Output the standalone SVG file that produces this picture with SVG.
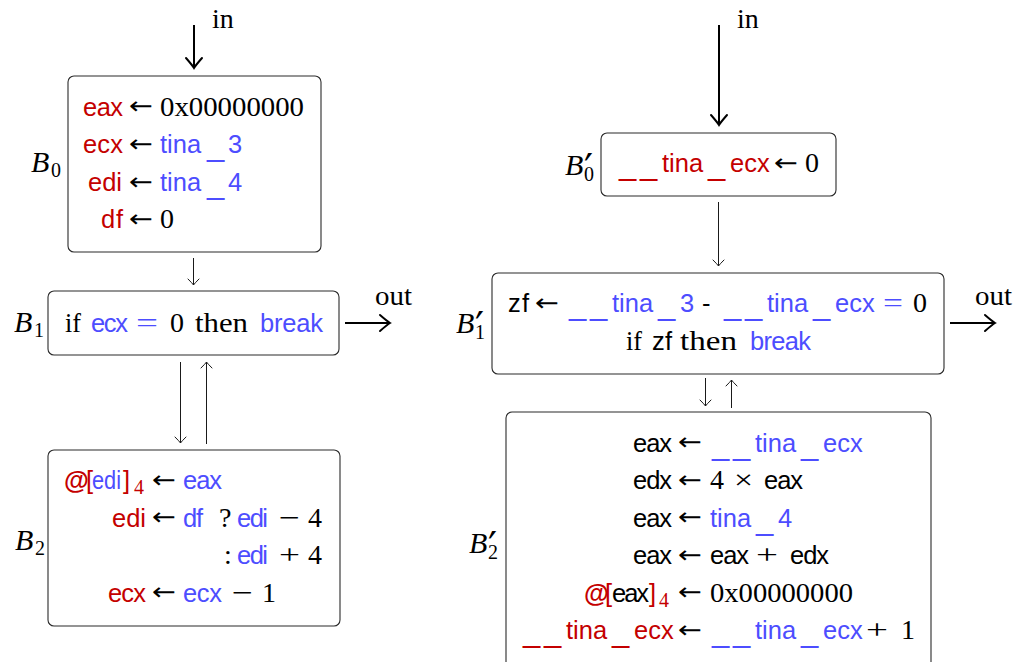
<svg xmlns="http://www.w3.org/2000/svg" width="1022" height="662" viewBox="0 0 1022 662">
  <style>
    .box { fill: #ffffff; stroke: #2a2a2a; stroke-width: 1.1; }
    .sf { font-family: "Liberation Sans", Arial, sans-serif; font-size: 25.5px; fill: #000; }
    .us { font-size: 31px; }
    .rm { font-family: "Liberation Serif", "DejaVu Serif", serif; font-size: 28px; fill: #000; }
    .lbl { font-family: "Liberation Serif", "DejaVu Serif", serif; font-size: 30px; font-style: italic; fill: #000; }
    .sub { font-family: "Liberation Serif", "DejaVu Serif", serif; font-size: 20px; font-style: normal; }
    .pr { font-family: "DejaVu Sans", sans-serif; font-size: 40px; font-style: normal; }
    .ar { font-family: "DejaVu Sans", sans-serif; font-size: 24px; fill: #000; }
    .red { fill: #c40000; }
    .blue { fill: #4d4dff; }
    .thin { fill: none; stroke: #1a1a1a; stroke-width: 1; }
    .thick { fill: none; stroke: #000; stroke-width: 2; }
  </style>
  <defs>
    <marker id="tipThin" markerUnits="userSpaceOnUse" markerWidth="16" markerHeight="16" viewBox="-8 -8 16 16" refX="0" refY="0" orient="auto">
      <path d="M -6,-5.5 Q -1.5,-1 0,0 Q -1.5,1 -6,5.5" fill="none" stroke="#1a1a1a" stroke-width="1" stroke-linecap="round"/>
    </marker>
    <marker id="tipThick" markerUnits="userSpaceOnUse" markerWidth="24" markerHeight="24" viewBox="-12 -12 24 24" refX="0" refY="0" orient="auto">
      <path d="M -10,-8 Q -2.5,-1.5 0,0 Q -2.5,1.5 -10,8" fill="none" stroke="#000" stroke-width="2" stroke-linecap="round"/>
    </marker>
  </defs>

  <!-- connectors -->
  <g id="connectors">
    <line class="thick" x1="194" y1="25" x2="194" y2="68" marker-end="url(#tipThick)"/>
    <text class="rm" x="212" y="28">in</text>
    <line class="thin" x1="193.5" y1="258" x2="193.5" y2="285" marker-end="url(#tipThin)"/>
    <line class="thick" x1="345" y1="323" x2="390" y2="323" marker-end="url(#tipThick)"/>
    <text class="rm" x="375" y="305" textLength="37" lengthAdjust="spacingAndGlyphs">out</text>
    <line class="thin" x1="180.5" y1="362" x2="180.5" y2="443" marker-end="url(#tipThin)"/>
    <line class="thin" x1="206.5" y1="444" x2="206.5" y2="362" marker-end="url(#tipThin)"/>

    <line class="thick" x1="719" y1="25" x2="719" y2="125" marker-end="url(#tipThick)"/>
    <text class="rm" x="737" y="28">in</text>
    <line class="thin" x1="718.5" y1="202" x2="718.5" y2="266" marker-end="url(#tipThin)"/>
    <line class="thick" x1="950" y1="323" x2="995" y2="323" marker-end="url(#tipThick)"/>
    <text class="rm" x="975" y="305" textLength="37" lengthAdjust="spacingAndGlyphs">out</text>
    <line class="thin" x1="705.5" y1="378" x2="705.5" y2="406" marker-end="url(#tipThin)"/>
    <line class="thin" x1="731.5" y1="408" x2="731.5" y2="380" marker-end="url(#tipThin)"/>
  </g>

  <!-- left program -->
  <g id="B0">
    <rect class="box" x="68" y="76" width="253" height="176" rx="6"/>
    <text class="lbl" x="31" y="172">B<tspan class="sub" x="51" dy="5">0</tspan></text>
    <text class="sf red" x="123" y="115.5" text-anchor="end" textLength="40">eax</text>
    <text class="ar" x="129" y="114" textLength="24" lengthAdjust="spacingAndGlyphs">←</text>
    <text class="rm" x="160" y="115.5" textLength="144" lengthAdjust="spacingAndGlyphs">0x00000000</text>
    <text class="sf red" x="123" y="153" text-anchor="end" textLength="40">ecx</text>
    <text class="ar" x="129" y="151.5" textLength="24" lengthAdjust="spacingAndGlyphs">←</text>
    <text class="sf blue" x="160" y="153">tina<tspan class="us" x="207" dy="3">_</tspan><tspan x="228" dy="-3">3</tspan></text>
    <text class="sf red" x="122" y="191" text-anchor="end">edi</text>
    <text class="ar" x="129" y="189.5" textLength="24" lengthAdjust="spacingAndGlyphs">←</text>
    <text class="sf blue" x="160" y="191">tina<tspan class="us" x="207" dy="3">_</tspan><tspan x="228" dy="-3">4</tspan></text>
    <text class="sf red" x="123" y="228" text-anchor="end" textLength="22">df</text>
    <text class="ar" x="129" y="226.5" textLength="24" lengthAdjust="spacingAndGlyphs">←</text>
    <text class="rm" x="160" y="228">0</text>
  </g>

  <g id="B1">
    <rect class="box" x="48" y="291" width="291" height="64" rx="6"/>
    <text class="lbl" x="14" y="332">B<tspan class="sub" x="34" dy="5">1</tspan></text>
    <text class="rm" x="65" y="332" textLength="16" lengthAdjust="spacingAndGlyphs">if</text>
    <text class="sf blue" x="91" y="332" textLength="37">ecx</text>
    <text class="rm blue" x="136" y="332" textLength="22" lengthAdjust="spacingAndGlyphs">=</text>
    <text class="rm" x="170" y="332">0</text>
    <text class="rm" x="195" y="332" textLength="53" lengthAdjust="spacingAndGlyphs">then</text>
    <text class="sf blue" x="260" y="332" textLength="63">break</text>
  </g>

  <g id="B2">
    <rect class="box" x="48" y="450" width="292" height="176" rx="6"/>
    <text class="lbl" x="15" y="550">B<tspan class="sub" x="35" dy="5">2</tspan></text>
    <!-- row 1 -->
    <text class="sf red" x="64" y="489" font-weight="bold" font-size="22px">@</text>
    <text class="sf red" x="86" y="489">[</text>
    <text class="sf blue" x="92" y="489" textLength="29" lengthAdjust="spacingAndGlyphs">edi</text>
    <text class="sf red" x="123" y="489">]</text>
    <text class="sub red" x="134" y="494">4</text>
    <text class="ar" x="152" y="487.5" textLength="24" lengthAdjust="spacingAndGlyphs">←</text>
    <text class="sf blue" x="183" y="489" textLength="39">eax</text>
    <!-- row 2 -->
    <text class="sf red" x="146" y="526.5" text-anchor="end">edi</text>
    <text class="ar" x="152" y="525" textLength="24" lengthAdjust="spacingAndGlyphs">←</text>
    <text class="sf blue" x="183" y="526.5" textLength="20">df</text>
    <text class="rm" x="219" y="526.5">?</text>
    <text class="sf blue" x="237" y="526.5" textLength="31">edi</text>
    <text class="rm" x="279" y="526.5" textLength="21" lengthAdjust="spacingAndGlyphs">−</text>
    <text class="rm" x="308" y="526.5">4</text>
    <!-- row 3 -->
    <text class="rm" x="224" y="564">:</text>
    <text class="sf blue" x="237" y="564" textLength="31">edi</text>
    <text class="rm" x="279" y="564" textLength="21" lengthAdjust="spacingAndGlyphs">+</text>
    <text class="rm" x="308" y="564">4</text>
    <!-- row 4 -->
    <text class="sf red" x="146" y="601.5" text-anchor="end" textLength="38">ecx</text>
    <text class="ar" x="152" y="600" textLength="24" lengthAdjust="spacingAndGlyphs">←</text>
    <text class="sf blue" x="183" y="601.5" textLength="39">ecx</text>
    <text class="rm" x="232" y="601.5" textLength="21" lengthAdjust="spacingAndGlyphs">−</text>
    <text class="rm" x="262" y="601.5">1</text>
  </g>

  <!-- right program -->
  <g id="B0p">
    <rect class="box" x="601" y="133" width="235" height="63" rx="6"/>
    <text class="lbl" x="565" y="175">B<tspan class="pr" x="584" dy="8">′</tspan><tspan class="sub" x="584" dy="-2">0</tspan></text>
    <text class="sf red" x="619" y="175"><tspan class="us">_</tspan><tspan class="us" x="640">_</tspan><tspan x="662" dy="-3">tina</tspan><tspan class="us" x="708" dy="3">_</tspan><tspan x="730" dy="-3">ecx</tspan></text>
    <text class="ar" x="774" y="170.5" textLength="24" lengthAdjust="spacingAndGlyphs">←</text>
    <text class="rm" x="805" y="172">0</text>
  </g>

  <g id="B1p">
    <rect class="box" x="492" y="273" width="452" height="101" rx="6"/>
    <text class="lbl" x="456" y="333">B<tspan class="pr" x="475" dy="8">′</tspan><tspan class="sub" x="475" dy="-2">1</tspan></text>
    <text class="sf" x="508" y="312" textLength="21">zf</text>
    <text class="ar" x="535" y="310.5" textLength="24" lengthAdjust="spacingAndGlyphs">←</text>
    <text class="sf blue" x="569" y="315"><tspan class="us">_</tspan><tspan class="us" x="590">_</tspan><tspan x="612" dy="-3">tina</tspan><tspan class="us" x="658" dy="3">_</tspan><tspan x="680" dy="-3">3</tspan></text>
    <text class="sf" x="702" y="312">-</text>
    <text class="sf blue" x="724" y="315"><tspan class="us">_</tspan><tspan class="us" x="745">_</tspan><tspan x="767" dy="-3">tina</tspan><tspan class="us" x="813" dy="3">_</tspan><tspan x="835" dy="-3">ecx</tspan></text>
    <text class="rm blue" x="883" y="312" textLength="20" lengthAdjust="spacingAndGlyphs">=</text>
    <text class="rm" x="913" y="312">0</text>
    <text class="rm" x="626" y="350" textLength="16" lengthAdjust="spacingAndGlyphs">if</text>
    <text class="sf" x="652" y="350" textLength="20">zf</text>
    <text class="rm" x="680" y="350" textLength="57" lengthAdjust="spacingAndGlyphs">then</text>
    <text class="sf blue" x="750" y="350" textLength="61">break</text>
  </g>

  <g id="B2p">
    <rect class="box" x="506" y="412" width="425" height="262" rx="6"/>
    <text class="lbl" x="469" y="553">B<tspan class="pr" x="488" dy="8">′</tspan><tspan class="sub" x="488" dy="-2">2</tspan></text>
    <!-- row 1 -->
    <text class="sf" x="672" y="451.5" text-anchor="end" textLength="39">eax</text>
    <text class="ar" x="678" y="450" textLength="24" lengthAdjust="spacingAndGlyphs">←</text>
    <text class="sf blue" x="712" y="454.5"><tspan class="us">_</tspan><tspan class="us" x="733">_</tspan><tspan x="755" dy="-3">tina</tspan><tspan class="us" x="801" dy="3">_</tspan><tspan x="823" dy="-3">ecx</tspan></text>
    <!-- row 2 -->
    <text class="sf" x="672" y="489" text-anchor="end" textLength="39">edx</text>
    <text class="ar" x="678" y="487.5" textLength="24" lengthAdjust="spacingAndGlyphs">←</text>
    <text class="rm" x="710" y="489">4</text>
    <text class="rm" x="734" y="489" textLength="19" lengthAdjust="spacingAndGlyphs">×</text>
    <text class="sf" x="764" y="489" textLength="39">eax</text>
    <!-- row 3 -->
    <text class="sf" x="672" y="526.5" text-anchor="end" textLength="39">eax</text>
    <text class="ar" x="678" y="525" textLength="24" lengthAdjust="spacingAndGlyphs">←</text>
    <text class="sf blue" x="710" y="526.5">tina<tspan class="us" x="756" dy="3">_</tspan><tspan x="778" dy="-3">4</tspan></text>
    <!-- row 4 -->
    <text class="sf" x="672" y="564" text-anchor="end" textLength="39">eax</text>
    <text class="ar" x="678" y="562.5" textLength="24" lengthAdjust="spacingAndGlyphs">←</text>
    <text class="sf" x="710" y="564" textLength="39">eax</text>
    <text class="rm" x="756" y="564" textLength="22" lengthAdjust="spacingAndGlyphs">+</text>
    <text class="sf" x="790" y="564" textLength="39">edx</text>
    <!-- row 5 -->
    <text class="sf red" x="584" y="601.5" font-weight="bold" font-size="21px">@</text>
    <text class="sf red" x="605" y="601.5">[</text>
    <text class="sf" x="612" y="601.5" textLength="37">eax</text>
    <text class="sf red" x="649" y="601.5">]</text>
    <text class="sub red" x="659" y="607">4</text>
    <text class="ar" x="678" y="600" textLength="24" lengthAdjust="spacingAndGlyphs">←</text>
    <text class="rm" x="710" y="601.5" textLength="143" lengthAdjust="spacingAndGlyphs">0x00000000</text>
    <!-- row 6 -->
    <text class="sf red" x="523" y="642"><tspan class="us">_</tspan><tspan class="us" x="544">_</tspan><tspan x="566" dy="-3">tina</tspan><tspan class="us" x="612" dy="3">_</tspan><tspan x="634" dy="-3">ecx</tspan></text>
    <text class="ar" x="678" y="637.5" textLength="24" lengthAdjust="spacingAndGlyphs">←</text>
    <text class="sf blue" x="712" y="642"><tspan class="us">_</tspan><tspan class="us" x="733">_</tspan><tspan x="755" dy="-3">tina</tspan><tspan class="us" x="801" dy="3">_</tspan><tspan x="823" dy="-3">ecx</tspan></text>
    <text class="rm" x="866" y="639" textLength="22" lengthAdjust="spacingAndGlyphs">+</text>
    <text class="rm" x="901" y="639">1</text>
  </g>
</svg>
